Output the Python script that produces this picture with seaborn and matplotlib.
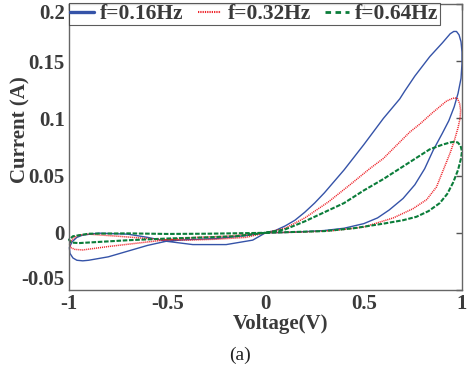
import matplotlib
matplotlib.use("Agg")
import matplotlib.pyplot as plt
import seaborn as sns
import pandas as pd

# ---- data (closed loops, V in volts, I in amps) ----
labels = ["f=0.16Hz", "f=0.32Hz", "f=0.64Hz"]

v_016 = [0.0, 0.1, 0.2, 0.3, 0.4, 0.5, 0.57, 0.63, 0.7, 0.76, 0.81, 0.853, 0.9, 0.933, 0.96, 0.98,
         0.995, 1.0, 1.0, 0.995, 0.985, 0.972, 0.958, 0.94, 0.9, 0.836, 0.76, 0.709, 0.683, 0.6,
         0.5, 0.4, 0.3, 0.25, 0.2, 0.15, 0.1, 0.05, 0.0,
         -0.065, -0.2, -0.37, -0.5, -0.6, -0.7, -0.85, -0.93, -0.96, -0.985, -0.998, -0.995, -0.98,
         -0.96, -0.93, -0.9, -0.8, -0.7, -0.6, -0.5, -0.4, -0.25, -0.1, 0.0]
i_016 = [0.0, 0.0003, 0.001, 0.002, 0.004, 0.008, 0.013, 0.02, 0.03, 0.042, 0.056, 0.072, 0.087, 0.098, 0.11, 0.122,
         0.135, 0.148, 0.158, 0.167, 0.173, 0.176, 0.176, 0.174, 0.166, 0.154, 0.137, 0.124, 0.117, 0.1,
         0.077, 0.055, 0.035, 0.026, 0.018, 0.011, 0.006, 0.002, 0.0,
         -0.0064, -0.0103, -0.0103, -0.0075, -0.004, -0.0012, -0.0003, -0.002, -0.004, -0.008, -0.013, -0.018, -0.022,
         -0.024, -0.0245, -0.024, -0.021, -0.016, -0.011, -0.0072, -0.006, -0.005, -0.0025, 0.0]

v_032 = [0.0, 0.2, 0.35, 0.5, 0.65, 0.75, 0.82, 0.87, 0.912, 0.94, 0.96, 0.98, 0.99, 0.993, 0.988,
         0.978, 0.963, 0.945, 0.92, 0.85, 0.785, 0.734, 0.6, 0.53, 0.43, 0.32, 0.2, 0.1, 0.0,
         -0.1, -0.25, -0.4, -0.5, -0.6, -0.75, -0.9, -0.95, -0.98, -0.997, -0.99, -0.97, -0.93,
         -0.8, -0.65, -0.5, -0.35, -0.2, 0.0]
i_032 = [0.0, 0.0007, 0.002, 0.005, 0.013, 0.021, 0.029, 0.04, 0.058, 0.07, 0.08, 0.092, 0.1, 0.107, 0.113,
         0.117, 0.118, 0.117, 0.115, 0.105, 0.095, 0.088, 0.065, 0.056, 0.042, 0.027, 0.013, 0.004, 0.0,
         -0.004, -0.0056, -0.0064, -0.006, -0.005, -0.003, -0.0012, -0.002, -0.005, -0.01, -0.013, -0.0145, -0.015,
         -0.012, -0.009, -0.006, -0.004, -0.003, 0.0]

v_064 = [0.0, 0.3, 0.45, 0.6, 0.7, 0.768, 0.83, 0.887, 0.925, 0.955, 0.98, 0.995, 1.0, 0.993,
         0.978, 0.96, 0.94, 0.9, 0.836, 0.7, 0.6, 0.5, 0.4, 0.3, 0.2, 0.1, 0.0,
         -0.15, -0.3, -0.5, -0.7, -0.85, -0.95, -0.99, -1.0, -0.98, -0.9, -0.7, -0.5, -0.3, -0.1, 0.0]
i_064 = [0.0, 0.0015, 0.004, 0.008, 0.011, 0.014, 0.019, 0.026, 0.034, 0.044, 0.055, 0.065, 0.071, 0.076,
         0.079, 0.0795, 0.079, 0.077, 0.073, 0.058, 0.047, 0.037, 0.026, 0.018, 0.01, 0.003, 0.0,
         -0.003, -0.004, -0.005, -0.0065, -0.008, -0.009, -0.0085, -0.006, -0.003, -0.0008, -0.0005, -0.001, -0.0008, -0.0003, 0.0]

x_ticks = [-1, -0.5, 0, 0.5, 1]
x_tick_labels = ["-1", "-0.5", "0", "0.5", "1"]
y_ticks = [-0.05, 0, 0.05, 0.1, 0.15, 0.2]
y_tick_labels = ["-0.05", "0", "0.05", "0.1", "0.15", "0.2"]

series = [(labels[0], v_016, i_016), (labels[1], v_032, i_032), (labels[2], v_064, i_064)]
frames = []
for lab, v, i in series:
    frames.append(pd.DataFrame({"V": v, "I": i, "f": lab}))
df = pd.concat(frames, ignore_index=True)

sns.set_style("white")
plt.rcParams["font.family"] = ["Liberation Serif", "DejaVu Serif"]
plt.rcParams["axes.unicode_minus"] = False

txt = "#3a3a3a"
colors = ["#3553a8", "#ee2228", "#0b7d3a"]
styles = ["-", (0, (0.7, 0.6)), (0, (2.2, 0.8))]
widths = [1.0, 1.1, 1.5]

fig = plt.figure(figsize=(4.73, 3.74), dpi=100)
ax = fig.add_axes([69 / 473, 1 - 290 / 374, (462 - 69) / 473, (290 - 4) / 374])

for (lab, v, i), c, ls, lw in zip(series, colors, styles, widths):
    sub = df[df["f"] == lab]
    sns.lineplot(data=sub, x="V", y="I", sort=False, estimator=None, ax=ax,
                 color=c, linestyle=ls, linewidth=lw, label=lab, clip_on=False)

ax.set_xlim(-1, 1)
ax.set_ylim(-0.05, 0.2)
ax.set_xticks(x_ticks)
ax.set_xticklabels(x_tick_labels)
ax.set_yticks(y_ticks)
ax.set_yticklabels(y_tick_labels)
ax.tick_params(direction="in", length=4, width=1, color="#555555",
               labelsize=15, labelcolor=txt, top=True, right=True, pad=3)
for lbl in ax.get_xticklabels() + ax.get_yticklabels():
    lbl.set_fontweight("bold")
ax.get_yticklabels()[-1].set_verticalalignment("top")
ax.get_yticklabels()[0].set_verticalalignment("bottom")
for s in ax.spines.values():
    s.set_color("#666666")
    s.set_linewidth(1.0)

ax.set_xlabel("Voltage(V)", fontsize=15, fontweight="bold", color=txt)
ax.set_ylabel("Current (A)", fontsize=15, fontweight="bold", color=txt)
ax.xaxis.set_label_coords((281 - 69) / 393, (290 - 314) / 286)
ax.yaxis.set_label_coords((30 - 69) / 393, (290 - 130) / 286)

leg = ax.legend(loc="upper left", bbox_to_anchor=(0.0, 1.003), ncol=3, frameon=True,
                fancybox=False, borderaxespad=0, borderpad=0.05, handlelength=1.1,
                handletextpad=0.3, columnspacing=0.65, labelspacing=0.1,
                prop={"family": "Liberation Serif", "weight": "bold", "size": 15.5})
leg.get_frame().set_edgecolor("#333333")
leg.get_frame().set_linewidth(0.8)
for t in leg.get_texts():
    t.set_color(txt)
leg_styles = ["-", (0, (0.6, 0.5)), (0, (2.0, 1.6))]
for h, lw, ls in zip(leg.get_lines(), [2.4, 1.5, 2.0], leg_styles):
    h.set_linewidth(lw)
    h.set_linestyle(ls)

fig.text(240 / 473, 1 - 355 / 374, "(a)", ha="center", va="center", fontsize=14, color="#222222")

fig.savefig("out.png", dpi=100)
